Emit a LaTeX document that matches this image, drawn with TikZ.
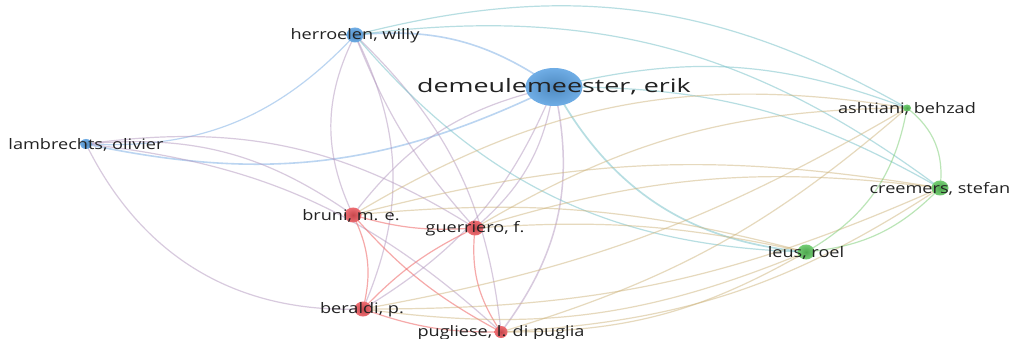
\documentclass[tikz,border=0pt]{standalone}
\usepackage{fontspec}
\usetikzlibrary{shapes.geometric}
\newfontfamily\labfont[FakeStretch=1.25]{Open Sans}
\newfontfamily\bigfont[FakeStretch=1.45]{Open Sans}
\definecolor{cbb}{RGB}{120,172,228}
\definecolor{cbr}{RGB}{178,150,190}
\definecolor{crr}{RGB}{240,112,112}
\definecolor{cbg}{RGB}{112,190,198}
\definecolor{crg}{RGB}{206,180,124}
\definecolor{cgg}{RGB}{120,204,112}
\definecolor{nblue}{RGB}{92,162,226}
\definecolor{nred}{RGB}{234,84,90}
\definecolor{ngreen}{RGB}{92,196,92}
\definecolor{txt}{RGB}{34,34,34}
\pgfdeclarelayer{bg}
\pgfsetlayers{bg,main}
\tikzset{
  dot/.style={ellipse,inner sep=0pt,minimum width=17pt,minimum height=15pt},
  bdot/.style={dot,inner color=nblue!85!black,outer color=nblue!88!white},
  rdot/.style={dot,inner color=nred!85!black,outer color=nred!85!white},
  gdot/.style={dot,inner color=ngreen!85!black,outer color=ngreen!85!white},
  lab/.style={text=txt,font=\labfont\fontsize{14.5}{16}\selectfont,inner sep=0pt},
  biglab/.style={text=txt,font=\bigfont\fontsize{18.5}{21}\selectfont,inner sep=0pt},
  edge/.style={line width=1.2pt,opacity=0.5},
  bb/.style={edge,draw=cbb},
  br/.style={edge,draw=cbr},
  rr/.style={edge,draw=crr,opacity=0.6},
  bgr/.style={edge,draw=cbg},
  rg/.style={edge,draw=crg},
  gg/.style={edge,draw=cgg},
}
\begin{document}
\begin{tikzpicture}[x=1pt,y=1pt]
\begin{pgfonlayer}{bg}
\fill[white] (0,0) rectangle (1012,-339);
\end{pgfonlayer}
\useasboundingbox (0,0) rectangle (1012,-339);
% nodes
\node[bdot,minimum width=57pt,minimum height=38pt] (D) at (554,-87) {};
\node[bdot] (H) at (355,-35) {};
\node[bdot,minimum width=12pt,minimum height=10pt] (L) at (86,-144) {};
\node[gdot,minimum width=8pt,minimum height=7pt] (A) at (907,-108) {};
\node[gdot] (C) at (940,-188) {};
\node[gdot] (R) at (806,-252) {};
\node[rdot] (B) at (353,-215) {};
\node[rdot] (G) at (475,-228) {};
\node[rdot] (P) at (363,-309) {};
\node[rdot,minimum width=13pt,minimum height=12pt] (U) at (501,-332) {};
% edges
\begin{pgfonlayer}{bg}
\draw[bb,line width=1.6pt] (H.center) to[bend left=20] (D.center);
\draw[bb] (L.center) to[bend right=25] (H.center);
\draw[bb,line width=1.6pt] (L.center) to[bend right=19] (D.center);
\draw[br] (L.center) to[bend right=33] (P.center);
\draw[br] (L.center) to[bend left=20] (B.center);
\draw[br] (L.center) to[bend left=20] (G.center);
\draw[br] (L.center) to[bend left=18] (U.center);
\draw[br] (H.center) to[bend right=26] (B.center);
\draw[br] (H.center) to[bend left=25] (P.center);
\draw[br] (H.center) to[bend right=10] (G.center);
\draw[br] (H.center) to[bend left=20] (U.center);
\draw[br] (D.center) to[bend right=20] (B.center);
\draw[br] (D.center) to[bend left=20] (G.center);
\draw[br] (D.center) to[bend left=18] (P.center);
\draw[br,line width=1.5pt] (D.center) to[bend left=25] (U.center);
\draw[rr] (B.center) to[bend left=20] (P.center);
\draw[rr] (B.center) to[bend right=10] (G.center);
\draw[rr] (B.center) to[bend right=10] (U.center);
\draw[rr] (G.center) to[bend right=10] (P.center);
\draw[rr] (G.center) to[bend right=20] (U.center);
\draw[rr] (P.center) to[bend right=10] (U.center);
\draw[bgr] (H.center) to[bend left=22] (A.center);
\draw[bgr] (H.center) to[bend left=22] (C.center);
\draw[bgr] (H.center) to[bend right=24] (R.center);
\draw[bgr] (D.center) to[bend left=17] (A.center);
\draw[bgr] (D.center) to[bend left=15] (C.center);
\draw[bgr,line width=1.7pt] (D.center) to[bend right=28] (R.center);
\draw[rg] (B.center) to[bend left=10] (R.center);
\draw[rg] (B.center) to[bend left=12] (C.center);
\draw[rg] (B.center) to[bend left=20] (A.center);
\draw[rg] (G.center) to[bend left=8] (R.center);
\draw[rg] (G.center) to[bend left=12] (C.center);
\draw[rg] (G.center) to[bend left=15] (A.center);
\draw[rg] (P.center) to[bend right=15] (R.center);
\draw[rg] (P.center) to[bend right=12] (C.center);
\draw[rg] (P.center) to[bend right=10] (A.center);
\draw[rg] (U.center) to[bend right=15] (R.center);
\draw[rg] (U.center) to[bend right=15] (C.center);
\draw[rg] (U.center) to[bend right=12] (A.center);
\draw[gg] (A.center) to[bend left=30] (C.center);
\draw[gg] (A.center) to[bend left=25] (R.center);
\draw[gg] (C.center) to[bend left=20] (R.center);
\end{pgfonlayer}
% labels
\node[biglab] (Dl) at (554,-87) {demeulemeester, erik};
\node[lab] (Hl) at (355,-36) {herroelen, willy};
\node[lab] (Ll) at (86,-145) {lambrechts, olivier};
\node[lab] (Al) at (907,-109) {ashtiani, behzad};
\node[lab] (Cl) at (940,-189) {creemers, stefan};
\node[lab] (Rl) at (806,-253) {leus, roel};
\node[lab] (Bl) at (351,-216) {bruni, m. e.};
\node[lab] (Gl) at (475,-229) {guerriero, f.};
\node[lab] (Pl) at (362,-310) {beraldi, p.};
\node[lab] (Ul) at (501,-333) {pugliese, l. di puglia};
\end{tikzpicture}
\end{document}
